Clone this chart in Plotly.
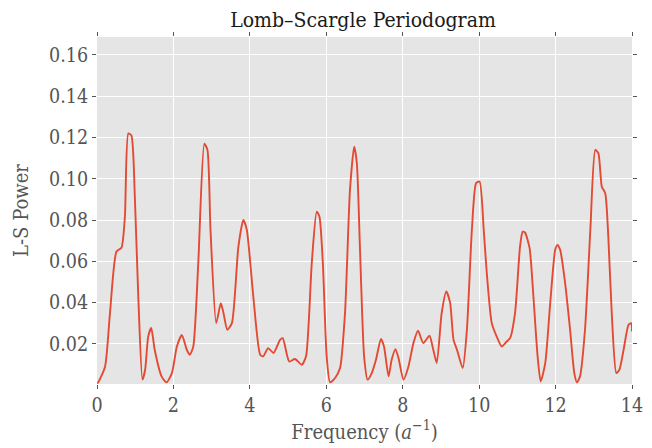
import plotly.graph_objects as go

freq = [0.0, 0.03, 0.21, 0.34, 0.51, 0.64, 0.73, 0.82, 0.90, 0.99, 1.08, 1.19, 1.26, 1.34, 1.42, 1.51,
        1.69, 1.82, 1.96, 2.09, 2.22, 2.35, 2.43, 2.52, 2.65, 2.81, 2.89, 2.97, 3.12, 3.24, 3.31,
        3.41, 3.53, 3.70, 3.83, 3.92, 4.09, 4.27, 4.35, 4.48, 4.62, 4.79, 4.86, 5.03, 5.18, 5.36,
        5.47, 5.62, 5.75, 5.82, 5.91, 6.01, 6.10, 6.23, 6.36, 6.49, 6.62, 6.73, 6.80, 6.88, 6.99,
        7.08, 7.19, 7.30, 7.43, 7.51, 7.63, 7.71, 7.81, 7.89, 8.02, 8.15, 8.28, 8.40, 8.54, 8.70,
        8.80, 8.89, 9.02, 9.14, 9.24, 9.33, 9.42, 9.57, 9.68, 9.81, 9.92, 10.01, 10.12, 10.20,
        10.33, 10.46, 10.59, 10.72, 10.81, 10.94, 11.07, 11.14, 11.20, 11.32, 11.42, 11.53, 11.61,
        11.73, 11.86, 11.99, 12.05, 12.12, 12.25, 12.38, 12.49, 12.56, 12.64, 12.77, 12.91, 13.04,
        13.12, 13.21, 13.30, 13.38, 13.47, 13.59, 13.67, 13.78, 13.91, 13.98, 14.0]
power = [0.0010, 0.0014, 0.0090, 0.0350, 0.0648, 0.0666, 0.0817, 0.1220, 0.1210, 0.0914, 0.0430,
         0.0027, 0.0075, 0.0236, 0.0277, 0.0172, 0.0043, 0.0014, 0.0059, 0.0188, 0.0244, 0.0172,
         0.0148, 0.0188, 0.0591, 0.1170, 0.1140, 0.0753, 0.0301, 0.0398, 0.0350, 0.0269, 0.0301,
         0.0672, 0.0801, 0.0753, 0.0430, 0.0148, 0.0140, 0.0180, 0.0156, 0.0220, 0.0228, 0.0115,
         0.0127, 0.0099, 0.0140, 0.0591, 0.0841, 0.0817, 0.0591, 0.0140, 0.0014, 0.0035, 0.0083,
         0.0350, 0.0946, 0.1156, 0.1075, 0.0672, 0.0140, 0.0027, 0.0059, 0.0123, 0.0224, 0.0188,
         0.0043, 0.0123, 0.0175, 0.0132, 0.0027, 0.0091, 0.0204, 0.0264, 0.0204, 0.0240, 0.0172,
         0.0107, 0.0350, 0.0454, 0.0400, 0.0220, 0.0172, 0.0083, 0.0269, 0.0753, 0.0979, 0.0987,
         0.0753, 0.0543, 0.0301, 0.0236, 0.0188, 0.0212, 0.0228, 0.0350, 0.0672, 0.0744, 0.0740,
         0.0664, 0.0430, 0.0140, 0.0018, 0.0107, 0.0398, 0.0656, 0.0680, 0.0656, 0.0495, 0.0269,
         0.0059, 0.0014, 0.0043, 0.0269, 0.0753, 0.1140, 0.1124, 0.0962, 0.0930, 0.0720, 0.0350,
         0.0059, 0.0075, 0.0172, 0.0293, 0.0301, 0.0260]

x_ticks = [0, 2, 4, 6, 8, 10, 12, 14]
y_ticks = [0.02, 0.04, 0.06, 0.08, 0.10, 0.12, 0.14, 0.16]

FONT = "DejaVu Serif Condensed, DejaVu Serif"

fig = go.Figure()
fig.add_trace(go.Scatter(x=freq, y=power, mode="lines",
                         line=dict(color="#E24A33", width=1.9, shape="spline", smoothing=0.6),
                         showlegend=False))

axis_common = dict(showgrid=True, gridcolor="white", gridwidth=1, zeroline=False,
                   ticks="outside", ticklen=4, tickcolor="#555555", tickwidth=1,
                   mirror="ticks", showline=False, automargin=False,
                   tickfont=dict(family=FONT, size=19.5, color="#555555"),
                   title_font=dict(family=FONT, size=20, color="#555555"))

# the page places the figure 8px from the top-left corner
fig.update_layout(
    width=652, height=448,
    margin=dict(l=89, r=28, t=29, b=72),
    paper_bgcolor="white", plot_bgcolor="#E5E5E5",
    title=dict(text="Lomb–Scargle Periodogram", x=(363 - 8) / 652, xanchor="center",
               y=1 - 12 / 448, yanchor="middle", automargin=False,
               font=dict(family=FONT, size=21, color="#1a1a1a")),
    xaxis=dict(range=[0, 14], tickvals=x_ticks, ticktext=[str(v) for v in x_ticks],
               title=dict(text="Frequency (<i>a</i><sup>−1</sup>)", standoff=6), **axis_common),
    yaxis=dict(range=[0.0006, 0.1687], tickvals=y_ticks,
               ticktext=[f"{v:.2f}" for v in y_ticks],
               title=dict(text="L-S Power", standoff=15), **axis_common),
)

fig.write_html("out.html")
